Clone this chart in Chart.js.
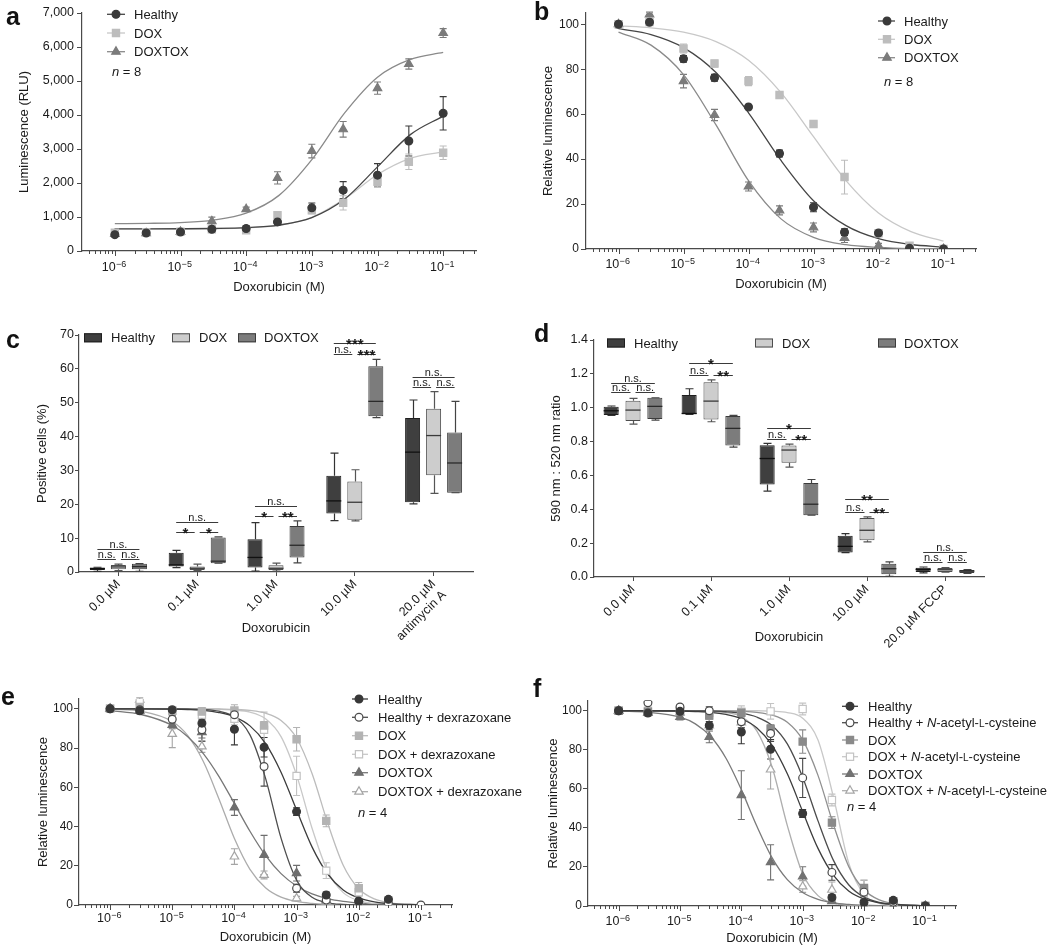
<!DOCTYPE html>
<html>
<head>
<meta charset="utf-8">
<title>Doxorubicin panels a-f</title>
<script src="https://cdn.jsdelivr.net/npm/chart.js@4.4.1/dist/chart.umd.min.js"></script>
<style>
  html, body { margin:0; padding:0; background:#ffffff; }
  #fig { position:relative; width:1050px; height:946px; overflow:hidden; background:#fff; }
  #fig canvas { position:absolute; }
  .plabel { position:absolute; font-family:"Liberation Sans", Arial, sans-serif; font-weight:bold; font-size:25px; line-height:25px; color:#111; }
</style>
</head>
<body>
<div id="fig">
  <canvas id="cA" width="520" height="300" style="left:0px;top:0px;width:520px;height:300px"></canvas>
  <canvas id="cB" width="530" height="300" style="left:520px;top:0px;width:530px;height:300px"></canvas>
  <canvas id="cC" width="520" height="345" style="left:0px;top:300px;width:520px;height:345px"></canvas>
  <canvas id="cD" width="530" height="365" style="left:520px;top:300px;width:530px;height:365px"></canvas>
  <canvas id="cE" width="540" height="301" style="left:0px;top:645px;width:540px;height:301px"></canvas>
  <canvas id="cF" width="530" height="301" style="left:520px;top:645px;width:530px;height:301px"></canvas>
  <div class="plabel" style="left:6px;top:4px">a</div>
  <div class="plabel" style="left:534px;top:-1px">b</div>
  <div class="plabel" style="left:6px;top:327px">c</div>
  <div class="plabel" style="left:534px;top:321px">d</div>
  <div class="plabel" style="left:1px;top:684px">e</div>
  <div class="plabel" style="left:533px;top:676px">f</div>
</div>
<script>
// ===================== DATA =====================
const doseM = [1e-6, 3e-6, 1e-5, 3e-5, 1e-4, 3e-4, 1e-3, 3e-3, 1e-2, 3e-2, 1e-1];
const logTickExponents = [-6, -5, -4, -3, -2, -1];
const curveExpHalf = [-6, -5.5, -5, -4.5, -4, -3.5, -3, -2.5, -2, -1.5, -1];
const curveExpQuarter = [-6, -5.5, -5, -4.75, -4.5, -4.25, -4, -3.75, -3.5, -3.25, -3, -2.75, -2.5, -2.25, -2, -1.75, -1.5, -1];

// panel a: luminescence (RLU)
const aNames = ['Healthy', 'DOX', 'DOXTOX'];
const aSampleSize = 8;
const aHealthy    = [480, 530, 560, 640, 660, 855, 1270, 1790, 2230, 3235, 4050];
const aHealthyErr = [30, 30, 30, 40, 90, 100, 140, 250, 340, 440, 490];
const aDox        = [540, 550, 570, 640, 610, 1050, 1200, 1415, 2035, 2625, 2890];
const aDoxErr     = [30, 30, 30, 40, 50, 80, 100, 210, 150, 230, 200];
const aDoxtox     = [500, 520, 560, 875, 1230, 2150, 2940, 3580, 4790, 5500, 6410];
const aDoxtoxErr  = [30, 30, 30, 120, 60, 180, 200, 230, 180, 150, 130];
const aHealthyFit = [650, 651, 654, 662, 686, 762, 982, 1527, 2475, 3423, 3968];
const aDoxFit     = [650, 651, 653, 659, 681, 757, 991, 1533, 2251, 2726, 2916];
const aDoxtoxFit  = [804, 813, 837, 910, 1114, 1636, 2687, 4062, 5113, 5636, 5840];

// panel b: relative luminescence
const bNames = ['Healthy', 'DOX', 'DOXTOX'];
const bSampleSize = 8;
const bHealthy    = [100, 100.9, 84.6, 76.2, 63.2, 42.5, 18.6, 7.5, 7.1, 0.3, 0];
const bHealthyErr = [1.5, 1, 1.5, 1.5, 1, 1.5, 2, 1.5, 1, 0, 0];
const bDox        = [100, 101, 89.2, 82.5, 74.7, 68.5, 55.6, 32, 7, 1.5, 0];
const bDoxErr     = [1.5, 1, 2, 1.5, 2, 1, 1, 7.5, 1, 1, 0];
const bDoxtox     = [100, 104.4, 74.7, 59.6, 27.8, 17.2, 9.6, 4.9, 1.5, 0.2, 0];
const bDoxtoxErr  = [1, 1, 3, 2.5, 2, 2, 2, 2, 1, 0, 0];
const bHealthyFit = [98.0, 95.4, 89.6, 78.5, 60.6, 39.4, 21.5, 10.4, 4.6, 2.0, 0.9];
const bDoxFit     = [99.3, 98.4, 96.5, 92.3, 84.0, 69.6, 50.0, 30.4, 16.0, 7.7, 3.5];
const bDoxtoxFit  = [96.5, 90.7, 77.6, 55.2, 30.4, 13.4, 5.2, 1.9, 0.7, 0.2, 0.1];

// panel c: positive cells (%), [min, q1, median, q3, max] per category
const cCategories = ['0.0 µM', '0.1 µM', '1.0 µM', '10.0 µM', ['20.0 µM', 'antimycin A']];
const cNames = ['Healthy', 'DOX', 'DOXTOX'];
const cHealthy = [[0.2, 0.6, 1.0, 1.3, 1.4], [1.3, 1.6, 2.1, 5.7, 6.4], [0.3, 1.3, 4.3, 9.7, 14.6], [15.2, 17.3, 21.0, 28.4, 35.1], [20.1, 20.6, 35.4, 45.5, 50.8]];
const cDox     = [[0.4, 0.8, 1.5, 2.1, 2.3], [0.4, 0.6, 1.1, 1.6, 2.3], [0.3, 0.6, 1.1, 2.0, 2.6], [15.1, 15.4, 20.6, 26.7, 30.2], [23.2, 28.6, 40.3, 48.2, 53.3]];
const cDoxtox  = [[0.2, 0.8, 1.6, 2.4, 2.5], [2.6, 2.6, 3.2, 10.2, 10.4], [2.7, 4.3, 7.9, 13.6, 15.1], [45.6, 46.0, 50.4, 60.8, 62.8], [23.4, 23.4, 32.2, 41.2, 50.4]];
// [category, from series, to series, level, label]
const cBrackets = [
  [0, 0, 2, 6.8, 'n.s.'], [0, 0, 1, 3.7, 'n.s.'], [0, 1, 2, 3.7, 'n.s.'],
  [1, 0, 2, 14.8, 'n.s.'], [1, 0, 1, 11.9, '*'], [1, 1, 2, 11.9, '*'],
  [2, 0, 2, 19.5, 'n.s.'], [2, 0, 1, 16.6, '*'], [2, 1, 2, 16.6, '**'],
  [3, 0, 2, 67.7, '***'], [3, 0, 1, 64.4, 'n.s.'], [3, 1, 2, 64.4, '***'],
  [4, 0, 2, 57.7, 'n.s.'], [4, 0, 1, 54.5, 'n.s.'], [4, 1, 2, 54.5, 'n.s.']
];

// panel d: 590 nm : 520 nm ratio
const dCategories = ['0.0 µM', '0.1 µM', '1.0 µM', '10.0 µM', '20.0 µM FCCP'];
const dNames = ['Healthy', 'DOX', 'DOXTOX'];
const dHealthy = [[0.955, 0.957, 0.982, 1.006, 1.01], [0.96, 0.962, 0.966, 1.075, 1.112], [0.507, 0.546, 0.700, 0.779, 0.789], [0.144, 0.144, 0.181, 0.243, 0.256], [0.024, 0.030, 0.045, 0.055, 0.059]];
const dDox     = [[0.903, 0.921, 0.986, 1.041, 1.055], [0.917, 0.931, 1.039, 1.15, 1.164], [0.649, 0.675, 0.75, 0.777, 0.785], [0.207, 0.217, 0.276, 0.349, 0.355], [0.028, 0.030, 0.043, 0.053, 0.055]];
const dDoxtox  = [[0.927, 0.933, 1.008, 1.059, 1.059], [0.767, 0.777, 0.878, 0.951, 0.955], [0.365, 0.365, 0.430, 0.556, 0.576], [0.004, 0.016, 0.049, 0.079, 0.089], [0.022, 0.024, 0.035, 0.041, 0.043]];
const dBrackets = [
  [0, 0, 2, 1.148, 'n.s.'], [0, 0, 1, 1.091, 'n.s.'], [0, 1, 2, 1.091, 'n.s.'],
  [1, 0, 2, 1.262, '*'], [1, 0, 1, 1.193, 'n.s.'], [1, 1, 2, 1.193, '**'],
  [2, 0, 2, 0.878, '*'], [2, 0, 1, 0.815, 'n.s.'], [2, 1, 2, 0.815, '**'],
  [3, 0, 2, 0.458, '**'], [3, 0, 1, 0.385, 'n.s.'], [3, 1, 2, 0.385, '**'],
  [4, 0, 2, 0.148, 'n.s.'], [4, 0, 1, 0.089, 'n.s.'], [4, 1, 2, 0.089, 'n.s.']
];

// panel e: relative luminescence with dexrazoxane
const eNames = ['Healthy', 'Healthy + dexrazoxane', 'DOX', 'DOX + dexrazoxane', 'DOXTOX', 'DOXTOX + dexrazoxane'];
const eSampleSize = 4;
const eHealthy       = [100, 99, 99.5, 92.7, 89.6, 80.4, 47.6, 5.1, 2.0, 2.9, null];
const eHealthyErr    = [1, 1.5, 1, 2, 8, 5, 2, 1.5, 1, 1, 0];
const eHealthyDex    = [100, 99.5, 94.7, 89.3, 97, 70.6, 8.5, 2.5, 1.7, 0.8, 0];
const eHealthyDexErr = [1, 1, 2, 6, 2, 10, 2, 1, 1, 0.5, 0];
const eDox           = [100, 101, 99, 98.6, 99.1, 91.5, 84.5, 42.9, 8.5, 2.5, null];
const eDoxErr        = [1, 1, 1, 2, 3, 2, 6, 3, 3, 1, 0];
const eDoxDex        = [100, 104, 99, 97, 94.9, 89.3, 65.8, 17.5, 6.5, 1.7, null];
const eDoxDexErr     = [1, 1, 1, 3, 3, 9, 10, 4, 2, 1, 0];
const eDoxtox        = [100, 99, 91.8, 88.1, 49.7, 25.5, 16.2, 2.5, 1, 0.5, null];
const eDoxtoxErr     = [1, 1, 2, 3, 4, 10, 4, 1, 0.5, 0.5, 0];
const eDoxtoxDex     = [100, 104.6, 87.2, 80.8, 24.7, 15.3, 3.4, 1.7, 0.5, 0.3, null];
const eDoxtoxDexErr  = [1, 1, 7, 3, 4, 2, 1, 1, 0.5, 0.5, 0];
const eHealthyFit    = [100, 100, 99.8, 99.6, 99.2, 98.1, 95.9, 91.3, 82.4, 67.7, 48.4, 29.5, 15.8, 7.7, 3.6, 1.6, 0.7, 0.1];
const eHealthyDexFit = [100, 100, 100, 99.9, 99.7, 98.8, 95.9, 86.7, 64.7, 34.1, 12.7, 3.9, 1.1, 0.3, 0.1, 0, 0, 0];
const eDoxFit        = [100, 100, 100, 100, 100, 99.9, 99.7, 99.2, 97.8, 94.1, 85.1, 66.9, 41.8, 20.3, 8.3, 3.1, 1.1, 0.1];
const eDoxDexFit     = [100, 100, 100, 100, 99.9, 99.8, 99.4, 98.3, 94.9, 85.8, 66.2, 39.0, 17.2, 6.3, 2.2, 0.7, 0.2, 0];
const eDoxtoxFit     = [99.1, 97.1, 91.5, 85.8, 77.2, 65.6, 51.7, 37.6, 25.3, 16.0, 9.7, 5.7, 3.3, 1.9, 1.1, 0.6, 0.3, 0.1];
const eDoxtoxDexFit  = [99.8, 98.7, 93.5, 86.3, 73.1, 54.2, 33.9, 18.2, 8.8, 4.0, 1.8, 0.8, 0.3, 0.1, 0, 0, 0, 0];

// panel f: relative luminescence with N-acetyl-L-cysteine (_italic_, ^small caps^)
const fNames = ['Healthy', 'Healthy + _N_-acetyl-^L^-cysteine', 'DOX', 'DOX + _N_-acetyl-^L^-cysteine', 'DOXTOX', 'DOXTOX + _N_-acetyl-^L^-cysteine'];
const fSampleSize = 4;
const fHealthy       = [100, 98.8, 99.7, 92.5, 89.1, 80.3, 47.4, 4.4, 1.9, 2.9, 0];
const fHealthyErr    = [1, 1.5, 1, 2, 6, 5, 2, 1.5, 1, 1, 0];
const fHealthyNac    = [100, 104.1, 101.9, 100, 94.4, 88.3, 65.6, 17.2, 7.1, 1.9, 0];
const fHealthyNacErr = [1, 1, 1, 2, 3, 4, 10, 4, 2, 1, 0];
const fDox           = [100, 99.5, 99.7, 97.6, 99, 90.8, 84.2, 42.7, 9.2, 2.4, 0];
const fDoxErr        = [1, 1, 1, 2, 2, 2, 6, 3, 4, 1, 0];
const fDoxNac        = [100, 100, 100, 99, 99.5, 99.7, 100.9, 54.3, 8.3, 1.5, 0];
const fDoxNacErr     = [1, 1, 1, 2, 3, 4, 3, 3, 5, 1, 0];
const fDoxtox        = [100, 99, 96.8, 86.6, 56.8, 22.4, 15.1, 2.4, 0.5, 0.3, 0];
const fDoxtoxErr     = [1, 1, 1.5, 3, 12.5, 9, 5, 1, 0.5, 0.5, 0];
const fDoxtoxNac     = [100, 99, 99, 92.5, 94, 69.9, 10, 8.3, 1, 0.5, 0];
const fDoxtoxNacErr  = [1, 1, 1, 3, 3, 10, 3, 4, 1, 0.5, 0];
const fHealthyFit    = [100, 100, 99.8, 99.6, 99.2, 98.1, 95.9, 91.3, 82.4, 67.7, 48.4, 29.5, 15.8, 7.7, 3.6, 1.6, 0.7, 0.1];
const fHealthyNacFit = [100, 100, 100, 99.9, 99.8, 99.5, 98.7, 96.8, 92.5, 83.0, 66.0, 43.6, 23.5, 10.9, 4.6, 1.9, 0.8, 0.1];
const fDoxFit        = [100, 100, 100, 100, 100, 99.9, 99.7, 99.2, 97.8, 94.1, 85.1, 66.9, 41.8, 20.3, 8.3, 3.1, 1.1, 0.1];
const fDoxNacFit     = [100, 100, 100, 100, 100, 100, 100, 100, 99.8, 99.1, 96.2, 85.0, 56.0, 22.1, 6.0, 1.4, 0.3, 0];
const fDoxtoxFit     = [99.8, 99.2, 96.7, 93.3, 86.8, 75.7, 59.6, 41.1, 24.8, 13.5, 6.9, 3.4, 1.6, 0.8, 0.4, 0.2, 0.1, 0];
const fDoxtoxNacFit  = [100, 100, 100, 99.9, 99.7, 99.1, 96.9, 89.8, 71.3, 41.2, 16.5, 5.3, 1.5, 0.4, 0.1, 0, 0, 0];

// ===================== STYLE / HELPERS =====================
const FONT = '"Liberation Sans", Arial, Helvetica, sans-serif';
const TXT = '#1a1a1a';
const AXC = '#4a4a4a';
Chart.defaults.font.family = FONT;
Chart.defaults.color = TXT;
const R = { circle: 3.9, rect: 5.1, triangle: 4.9 };

function drawMarker(ctx, style, x, y, r, fill, stroke) {
  ctx.beginPath();
  if (style === 'circle') ctx.arc(x, y, r, 0, Math.PI * 2);
  else if (style === 'rect') { const s = r * Math.SQRT1_2; ctx.rect(x - s, y - s, 2 * s, 2 * s); }
  else {
    for (let k = 0; k < 3; k++) {
      const a = k * 2 * Math.PI / 3;
      const px = x + Math.sin(a) * r, py = y - Math.cos(a) * r;
      if (k === 0) ctx.moveTo(px, py); else ctx.lineTo(px, py);
    }
    ctx.closePath();
  }
  ctx.fillStyle = fill; ctx.fill();
  ctx.lineWidth = 1.2; ctx.strokeStyle = stroke; ctx.stroke();
}

function drawRich(ctx, text, x, y, size) {
  const parts = text.split(/(_[^_]+_|\^[^\^]+\^)/).filter(s => s.length);
  let cx = x;
  for (const p of parts) {
    let t = p, f = size + 'px ' + FONT;
    if (p[0] === '_') { t = p.slice(1, -1); f = 'italic ' + size + 'px ' + FONT; }
    else if (p[0] === '^') { t = p.slice(1, -1); f = Math.round(size * 0.78) + 'px ' + FONT; }
    ctx.font = f;
    ctx.fillText(t, cx, y);
    cx += ctx.measureText(t).width;
  }
}

const errorBarPlugin = {
  id: 'errbars',
  beforeDatasetsDraw(chart) {
    const ctx = chart.ctx, ys = chart.scales.y;
    ctx.save();
    chart.data.datasets.forEach((ds, i) => {
      if (!ds.isPoints) return;
      const meta = chart.getDatasetMeta(i);
      ctx.strokeStyle = ds.errColor; ctx.lineWidth = 1.1;
      ds.data.forEach((p, k) => {
        if (!p.e) return;
        const el = meta.data[k]; const x = el.x;
        const t = ys.getPixelForValue(p.y + p.e), b = ys.getPixelForValue(p.y - p.e);
        ctx.beginPath();
        ctx.moveTo(x, t); ctx.lineTo(x, b);
        ctx.moveTo(x - 3.5, t); ctx.lineTo(x + 3.5, t);
        ctx.moveTo(x - 3.5, b); ctx.lineTo(x + 3.5, b);
        ctx.stroke();
      });
    });
    ctx.restore();
  }
};

function logAxisPlugin(labelOffset) {
  return {
    id: 'logAxis',
    afterDraw(chart) {
      const xs = chart.scales.x, ctx = chart.ctx, y0 = chart.chartArea.bottom;
      ctx.save();
      ctx.strokeStyle = AXC; ctx.lineWidth = 1;
      for (let ex = -7; ex <= 0; ex++) {
        for (let m = 1; m <= 9; m++) {
          const v = m * Math.pow(10, ex);
          if (v < xs.min * 0.999 || v > xs.max * 1.001) continue;
          const px = Math.round(xs.getPixelForValue(v)) + 0.5;
          ctx.beginPath(); ctx.moveTo(px, y0); ctx.lineTo(px, y0 + (m === 1 ? 5 : 3)); ctx.stroke();
        }
      }
      ctx.fillStyle = TXT; ctx.textBaseline = 'alphabetic'; ctx.textAlign = 'left';
      logTickExponents.forEach(ex => {
        const px = xs.getPixelForValue(Math.pow(10, ex));
        const sup = '\u2212' + Math.abs(ex);
        ctx.font = '12.5px ' + FONT; const w1 = ctx.measureText('10').width;
        ctx.font = '9px ' + FONT; const w2 = ctx.measureText(sup).width;
        const x0 = px - (w1 + w2) / 2 - 1;
        ctx.font = '12.5px ' + FONT; ctx.fillText('10', x0, y0 + labelOffset);
        ctx.font = '9px ' + FONT; ctx.fillText(sup, x0 + w1 + 0.3, y0 + labelOffset - 4.5);
      });
      ctx.restore();
    }
  };
}

function curveLegendPlugin(P) {
  return {
    id: 'clegend',
    afterDraw(chart) {
      const ctx = chart.ctx, L = P.legend;
      ctx.save();
      P.series.forEach((s, i) => {
        const y = L.rows[i];
        ctx.strokeStyle = s.line; ctx.lineWidth = 1.3;
        ctx.beginPath(); ctx.moveTo(L.lineL, y); ctx.lineTo(L.lineR, y); ctx.stroke();
        drawMarker(ctx, s.style, L.mx, y, R[s.style], s.filled ? s.color : '#ffffff', s.color);
        ctx.fillStyle = TXT; ctx.textAlign = 'left'; ctx.textBaseline = 'alphabetic';
        drawRich(ctx, s.name, L.tx, y + 4.6, 13);
      });
      ctx.fillStyle = TXT; ctx.textAlign = 'left'; ctx.textBaseline = 'alphabetic';
      drawRich(ctx, '_n_ = ' + P.n, L.nx, L.ny + 4.6, 13);
      ctx.restore();
    }
  };
}

function makeCurveChart(canvasId, P) {
  const datasets = [];
  P.series.forEach(s => {
    datasets.push({
      label: s.name, isPoints: true, errColor: s.color,
      data: doseM.map((d, j) => ({ x: d, y: s.values[j], e: s.err[j] })).filter(p => p.y !== null),
      showLine: false,
      pointStyle: s.style, pointRadius: R[s.style], pointHoverRadius: R[s.style],
      pointBackgroundColor: s.filled ? s.color : '#ffffff',
      pointBorderColor: s.color, pointBorderWidth: 1.2, order: 0
    });
  });
  P.series.forEach(s => {
    datasets.push({
      label: s.name + ' fit',
      data: P.curveExp.map((ex, j) => ({ x: Math.pow(10, ex), y: s.fit[j] })),
      showLine: true, borderColor: s.line, borderWidth: 1.3, pointRadius: 0, pointHoverRadius: 0,
      cubicInterpolationMode: 'monotone', fill: false, order: 1
    });
  });
  return new Chart(document.getElementById(canvasId), {
    type: 'scatter',
    data: { datasets },
    options: {
      responsive: false, animation: false, devicePixelRatio: 1, events: [],
      layout: { autoPadding: false, padding: { left: 0, right: P.padR, top: P.padT, bottom: 0 } },
      plugins: { legend: { display: false }, tooltip: { enabled: false } },
      scales: {
        x: {
          type: 'logarithmic', min: Math.pow(10, -6.5), max: Math.pow(10, -0.5),
          ticks: { display: false }, grid: { display: false },
          border: { display: true, color: AXC, width: 1.2 },
          title: { display: true, text: 'Doxorubicin (M)', color: TXT, font: { size: 13, family: FONT }, padding: { top: 0, bottom: P.xTitlePad } },
          afterFit(s) { s.height = P.xH; }
        },
        y: {
          type: 'linear', min: 0, max: P.yMax,
          ticks: { stepSize: P.yStep, includeBounds: false, color: TXT, font: { size: P.yTickSize, family: FONT }, padding: P.yTickPad, callback: P.yFmt },
          grid: { drawOnChartArea: false, drawTicks: true, tickLength: 5, color: AXC },
          border: { display: true, color: AXC, width: 1.2 },
          title: { display: true, text: P.yTitle, color: TXT, font: { size: 13, family: FONT }, padding: { top: P.yTitlePad, bottom: 0 } },
          afterFit(s) { s.width = P.yW; }
        }
      }
    },
    plugins: [errorBarPlugin, logAxisPlugin(P.labOff), curveLegendPlugin(P)]
  });
}

function boxPlugin(P) {
  return {
    id: 'boxes',
    beforeDatasetsDraw(chart) {
      const ctx = chart.ctx, ys = chart.scales.y;
      ctx.save(); ctx.lineWidth = 1.2;
      P.series.forEach((s, i) => {
        const meta = chart.getDatasetMeta(i);
        ctx.strokeStyle = s.whisker;
        s.boxes.forEach((b, j) => {
          const x = Math.round(meta.data[j].x) + 0.5;
          const pMin = ys.getPixelForValue(b[0]), pQ1 = ys.getPixelForValue(b[1]);
          const pQ3 = ys.getPixelForValue(b[3]), pMax = ys.getPixelForValue(b[4]);
          const c = 4;
          ctx.beginPath();
          ctx.moveTo(x, pQ3); ctx.lineTo(x, pMax); ctx.moveTo(x - c, pMax); ctx.lineTo(x + c, pMax);
          ctx.moveTo(x, pQ1); ctx.lineTo(x, pMin); ctx.moveTo(x - c, pMin); ctx.lineTo(x + c, pMin);
          ctx.stroke();
        });
      });
      ctx.restore();
    },
    afterDatasetsDraw(chart) {
      const ctx = chart.ctx, ys = chart.scales.y;
      ctx.save();
      P.series.forEach((s, i) => {
        const meta = chart.getDatasetMeta(i);
        ctx.strokeStyle = s.median; ctx.lineWidth = 1.3;
        s.boxes.forEach((b, j) => {
          const el = meta.data[j];
          const py = ys.getPixelForValue(b[2]);
          ctx.beginPath(); ctx.moveTo(el.x - el.width / 2, py); ctx.lineTo(el.x + el.width / 2, py); ctx.stroke();
        });
      });
      P.brackets.forEach(([cat, a, b, v, lab]) => {
        const ea = chart.getDatasetMeta(a).data[cat], eb = chart.getDatasetMeta(b).data[cat];
        const x1 = ea.x + (a === 1 ? 2.5 : 0), x2 = eb.x - (b === 1 ? 2.5 : 0);
        const py = Math.round(ys.getPixelForValue(v)) + 0.5;
        ctx.strokeStyle = '#3a3a3a'; ctx.lineWidth = 1;
        ctx.beginPath(); ctx.moveTo(x1, py); ctx.lineTo(x2, py); ctx.stroke();
        const star = lab[0] === '*';
        ctx.fillStyle = TXT; ctx.textAlign = 'center'; ctx.textBaseline = 'alphabetic';
        ctx.font = star ? ('bold 15px ' + FONT) : ('11px ' + FONT);
        ctx.fillText(lab, (x1 + x2) / 2, star ? py + 5.5 : py - 2);
      });
      ctx.restore();
    },
    afterDraw(chart) {
      const ctx = chart.ctx, L = P.legend;
      ctx.save();
      P.series.forEach((s, i) => {
        ctx.fillStyle = s.fill; ctx.strokeStyle = s.stroke; ctx.lineWidth = 1;
        ctx.fillRect(L.bx[i], L.y - 4.5, 18, 9);
        ctx.strokeRect(L.bx[i] + 0.5, L.y - 4.5 + 0.5, 17, 8);
        ctx.fillStyle = TXT; ctx.textAlign = 'left'; ctx.textBaseline = 'alphabetic';
        ctx.font = '13px ' + FONT;
        ctx.fillText(s.name, L.tx[i], L.y + 4.6);
      });
      ctx.restore();
    }
  };
}

function makeBoxChart(canvasId, P) {
  const datasets = P.series.map(s => ({
    label: s.name, data: s.boxes.map(b => [b[1], b[3]]),
    backgroundColor: s.fill, borderColor: s.stroke, borderWidth: 1, borderSkipped: false,
    barPercentage: P.barPct, categoryPercentage: P.catPct
  }));
  return new Chart(document.getElementById(canvasId), {
    type: 'bar',
    data: { labels: P.labels, datasets },
    options: {
      responsive: false, animation: false, devicePixelRatio: 1, events: [],
      layout: { autoPadding: false, padding: { left: 0, right: P.padR, top: P.padT, bottom: 0 } },
      plugins: { legend: { display: false }, tooltip: { enabled: false } },
      scales: {
        x: {
          grid: { display: true, drawOnChartArea: false, drawTicks: true, tickLength: 4, offset: false, color: AXC },
          border: { display: true, color: AXC, width: 1.2 },
          ticks: { color: TXT, font: { size: 12.5, family: FONT }, minRotation: 45, maxRotation: 45, autoSkip: false, padding: 1 },
          title: { display: true, text: 'Doxorubicin', color: TXT, font: { size: 13, family: FONT }, padding: { top: 0, bottom: P.xTitlePad } },
          afterFit(s) { s.height = P.xH; }
        },
        y: {
          min: 0, max: P.yMax,
          ticks: { stepSize: P.yStep, color: TXT, font: { size: 12.5, family: FONT }, padding: P.yTickPad, callback: P.yFmt },
          grid: { drawOnChartArea: false, drawTicks: true, tickLength: 4, color: AXC },
          border: { display: true, color: AXC, width: 1.2 },
          title: { display: true, text: P.yTitle, color: TXT, font: { size: 13, family: FONT }, padding: { top: P.yTitlePad, bottom: 0 } },
          afterFit(s) { s.width = P.yW; }
        }
      }
    },
    plugins: [boxPlugin(P)]
  });
}

// ===================== PANELS =====================
const pct = v => String(v);

makeCurveChart('cA', {
  series: [
    { name: aNames[0], values: aHealthy, err: aHealthyErr, fit: aHealthyFit, color: '#3a3a3a', line: '#454545', style: 'circle', filled: true },
    { name: aNames[1], values: aDox, err: aDoxErr, fit: aDoxFit, color: '#bdbdbd', line: '#c8c8c8', style: 'rect', filled: true },
    { name: aNames[2], values: aDoxtox, err: aDoxtoxErr, fit: aDoxtoxFit, color: '#7b7b7b', line: '#8a8a8a', style: 'triangle', filled: true }
  ],
  curveExp: curveExpHalf, n: aSampleSize,
  yMax: 7000, yStep: 1000, yFmt: v => Number(v).toLocaleString('en-US'), yTitle: 'Luminescence (RLU)',
  yW: 82, padR: 44, padT: 13, xH: 49, xTitlePad: 5, yTitlePad: 17, yTickPad: 3, yTickSize: 12.5, labOff: 20,
  legend: { mx: 116, lineL: 107, lineR: 125, tx: 134, rows: [14.3, 33, 51.7], nx: 112, ny: 71 }
});

makeCurveChart('cB', {
  series: [
    { name: bNames[0], values: bHealthy, err: bHealthyErr, fit: bHealthyFit, color: '#3a3a3a', line: '#454545', style: 'circle', filled: true },
    { name: bNames[1], values: bDox, err: bDoxErr, fit: bDoxFit, color: '#bdbdbd', line: '#c8c8c8', style: 'rect', filled: true },
    { name: bNames[2], values: bDoxtox, err: bDoxtoxErr, fit: bDoxtoxFit, color: '#7b7b7b', line: '#8a8a8a', style: 'triangle', filled: true }
  ],
  curveExp: curveExpHalf, n: bSampleSize,
  yMax: 105, yStep: 20, yFmt: pct, yTitle: 'Relative luminescence',
  yW: 66, padR: 74, padT: 13, xH: 51, xTitlePad: 8, yTitlePad: 21, yTickPad: 2, yTickSize: 12, labOff: 19,
  legend: { mx: 367, lineL: 358, lineR: 375, tx: 384, rows: [21, 39.3, 57.7], nx: 364, ny: 81 }
});

makeBoxChart('cC', {
  labels: cCategories,
  series: [
    { name: cNames[0], boxes: cHealthy, fill: '#3f3f3f', stroke: '#1f1f1f', whisker: '#333333', median: '#111111' },
    { name: cNames[1], boxes: cDox, fill: '#cdcdcd', stroke: '#4d4d4d', whisker: '#555555', median: '#3a3a3a' },
    { name: cNames[2], boxes: cDoxtox, fill: '#7c7c7c', stroke: '#3c3c3c', whisker: '#444444', median: '#2a2a2a' }
  ],
  brackets: cBrackets,
  barPct: 0.714, catPct: 0.8,
  yMax: 70, yStep: 10, yFmt: pct, yTitle: 'Positive cells (%)',
  yW: 79, padR: 47, padT: 35, xH: 73, xTitlePad: 9, yTitlePad: 35, yTickPad: 1,
  legend: { y: 37.8, bx: [84, 172, 238], tx: [111, 199, 264] }
});

makeBoxChart('cD', {
  labels: dCategories,
  series: [
    { name: dNames[0], boxes: dHealthy, fill: '#3f3f3f', stroke: '#1f1f1f', whisker: '#333333', median: '#111111' },
    { name: dNames[1], boxes: dDox, fill: '#cdcdcd', stroke: '#4d4d4d', whisker: '#555555', median: '#3a3a3a' },
    { name: dNames[2], boxes: dDoxtox, fill: '#7c7c7c', stroke: '#3c3c3c', whisker: '#444444', median: '#2a2a2a' }
  ],
  brackets: dBrackets,
  barPct: 0.69, catPct: 0.84,
  yMax: 1.4, yStep: 0.2, yFmt: v => Number(v).toFixed(1), yTitle: '590 nm : 520 nm ratio',
  yW: 74, padR: 66, padT: 40, xH: 88, xTitlePad: 20, yTitlePad: 29, yTickPad: 2,
  legend: { y: 43, bx: [87, 235, 358], tx: [114, 262, 384] }
});

makeCurveChart('cE', {
  series: [
    { name: eNames[0], values: eHealthy, err: eHealthyErr, fit: eHealthyFit, color: '#383838', line: '#3c3c3c', style: 'circle', filled: true },
    { name: eNames[1], values: eHealthyDex, err: eHealthyDexErr, fit: eHealthyDexFit, color: '#4a4a4a', line: '#4e4e4e', style: 'circle', filled: false },
    { name: eNames[2], values: eDox, err: eDoxErr, fit: eDoxFit, color: '#b3b3b3', line: '#bcbcbc', style: 'rect', filled: true },
    { name: eNames[3], values: eDoxDex, err: eDoxDexErr, fit: eDoxDexFit, color: '#c2c2c2', line: '#c8c8c8', style: 'rect', filled: false },
    { name: eNames[4], values: eDoxtox, err: eDoxtoxErr, fit: eDoxtoxFit, color: '#6e6e6e', line: '#777777', style: 'triangle', filled: true },
    { name: eNames[5], values: eDoxtoxDex, err: eDoxtoxDexErr, fit: eDoxtoxDexFit, color: '#a5a5a5', line: '#acacac', style: 'triangle', filled: false }
  ],
  curveExp: curveExpQuarter, n: eSampleSize,
  yMax: 105, yStep: 20, yFmt: pct, yTitle: 'Relative luminescence',
  yW: 79, padR: 88, padT: 54, xH: 41, xTitlePad: 1, yTitlePad: 36, yTickPad: 1, yTickSize: 12, labOff: 17,
  legend: { mx: 359, lineL: 352, lineR: 368, tx: 378, rows: [54, 72.3, 90.7, 109.3, 127.7, 146.7], nx: 358, ny: 167 }
});

makeCurveChart('cF', {
  series: [
    { name: fNames[0], values: fHealthy, err: fHealthyErr, fit: fHealthyFit, color: '#383838', line: '#3c3c3c', style: 'circle', filled: true },
    { name: fNames[1], values: fHealthyNac, err: fHealthyNacErr, fit: fHealthyNacFit, color: '#474747', line: '#4c4c4c', style: 'circle', filled: false },
    { name: fNames[2], values: fDox, err: fDoxErr, fit: fDoxFit, color: '#8a8a8a', line: '#909090', style: 'rect', filled: true },
    { name: fNames[3], values: fDoxNac, err: fDoxNacErr, fit: fDoxNacFit, color: '#c4c4c4', line: '#c8c8c8', style: 'rect', filled: false },
    { name: fNames[4], values: fDoxtox, err: fDoxtoxErr, fit: fDoxtoxFit, color: '#727272', line: '#7a7a7a', style: 'triangle', filled: true },
    { name: fNames[5], values: fDoxtoxNac, err: fDoxtoxNacErr, fit: fDoxtoxNacFit, color: '#a8a8a8', line: '#aeaeae', style: 'triangle', filled: false }
  ],
  curveExp: curveExpQuarter, n: fSampleSize,
  yMax: 105, yStep: 20, yFmt: pct, yTitle: 'Relative luminescence',
  yW: 68, padR: 94, padT: 56, xH: 40, xTitlePad: 0, yTitlePad: 26, yTickPad: 1, yTickSize: 12, labOff: 19,
  legend: { mx: 330, lineL: 322, lineR: 338, tx: 348, rows: [61.3, 77.7, 95, 111.7, 129, 145.7], nx: 327, ny: 161.7 }
});
</script>
</body>
</html>
